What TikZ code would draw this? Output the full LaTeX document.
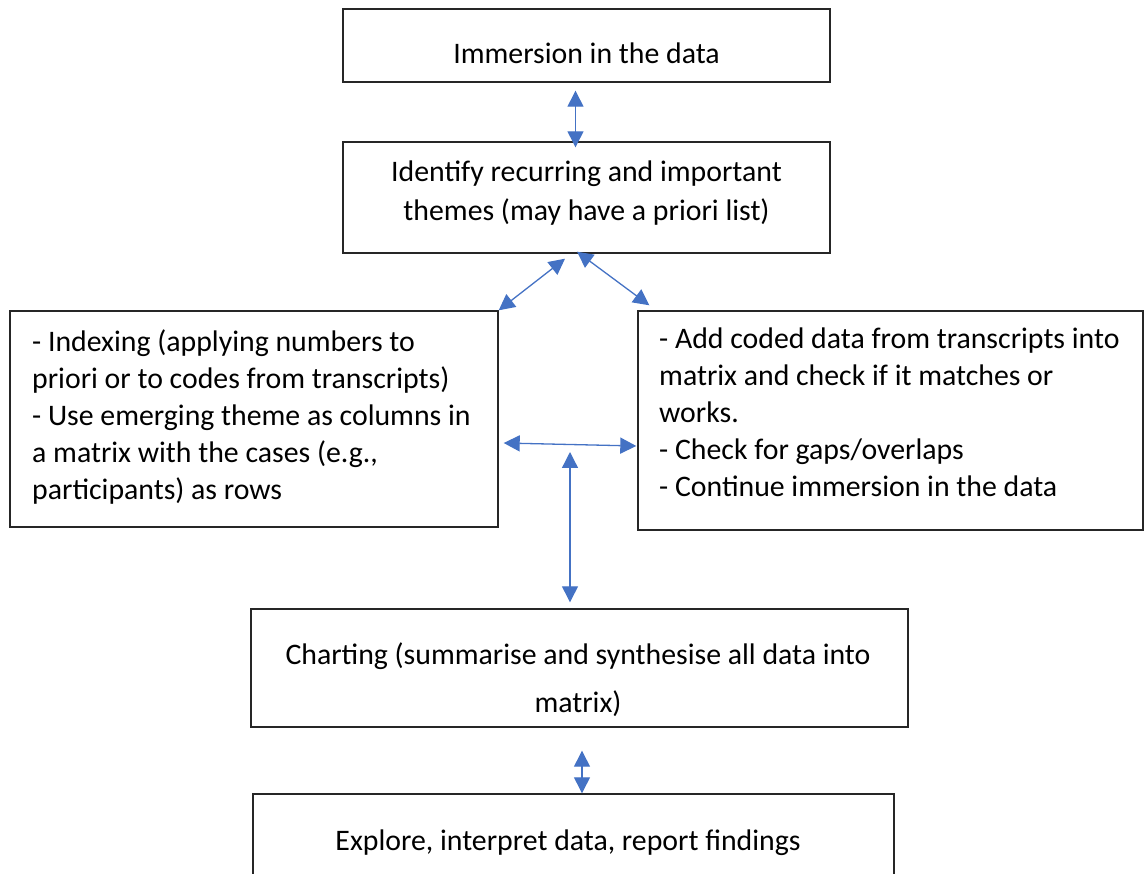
\documentclass[tikz,border=0pt]{standalone}
\usepackage{fontspec}
\setmainfont{Carlito}
\usetikzlibrary{arrows.meta,calc}
\definecolor{arrowblue}{HTML}{4472C4}
\definecolor{boxline}{HTML}{262626}
\tikzset{
  box/.style={draw=boxline, line width=1.4pt, rectangle, inner sep=0pt},
  txt/.style={inner sep=0pt, text=black, font=\fontsize{29.8}{37}\selectfont},
  conn/.style={draw=arrowblue, line width=1.3pt,
    {Triangle[width=16pt,length=16pt]}-{Triangle[width=16pt,length=16pt]}},
}
\begin{document}
\begin{tikzpicture}[x=1pt,y=-1pt]
\useasboundingbox (0,0) rectangle (1144,874);
\clip (0,0) rectangle (1144,874);
% boxes
\node[box, minimum width=487pt, minimum height=73pt] (b1) at (586.5,45.5) {};
\node[box, minimum width=487pt, minimum height=111pt] (b2) at (586.5,197.5) {};
\node[box, minimum width=488pt, minimum height=216pt] (b3) at (254,419) {};
\node[box, minimum width=505pt, minimum height=219pt] (b4) at (890.5,420.5) {};
\node[box, minimum width=657pt, minimum height=118pt] (b5) at (579.5,668) {};
\node[box, minimum width=641pt, minimum height=106pt] (b6) at (573.5,847) {};
% texts
\node[txt, anchor=base] (t1) at (586.5,64) {Immersion in the data};
\node[txt, anchor=north, align=center, font=\fontsize{29.8}{39}\selectfont] (t2) at (586.5,153.7)
  {\strut Identify recurring and important\\themes (may have a priori list)};
\node[txt, anchor=north west, align=left] (t3) at (32,325.5)
  {\strut - Indexing (applying numbers to\\priori or to codes from transcripts)\\- Use emerging theme as columns in\\a matrix with the cases (e.g.,\\participants) as rows};
\node[txt, anchor=north west, align=left] (t4) at (659,322)
  {\strut - Add coded data from transcripts into\\matrix and check if it matches or\\works.\\- Check for gaps/overlaps\\- Continue immersion in the data};
\node[txt, anchor=north, align=center, font=\fontsize{29.8}{48}\selectfont] (t5) at (578,630.4)
  {\strut Charting (summarise and synthesise all data into\\matrix)};
\node[txt, anchor=base] (t6) at (568,850) {Explore, interpret data, report findings};
% connectors
\coordinate (mid) at (570,452);
\draw[conn] ($(b1.south)+(-11,8)$) -- ($(b2.north)+(-11,6)$);
\draw[conn] (b3.north east) -- ($(b2.south)+(-21.5,5)$);
\draw[conn] ($(b2.south)+(-9.5,-2)$) -- ($(b4.north west)+(12,-5)$);
\draw[conn] ($(b3.east)+(5,24)$) -- ($(b4.west)+(-1,25.5)$);
\draw[conn] (mid) -- ($(b5.north)+(-9.5,-6)$);
\draw[conn] ($(b5.south)+(2.5,23)$) -- ($(b6.north)+(8.5,0)$);
\end{tikzpicture}
\end{document}
